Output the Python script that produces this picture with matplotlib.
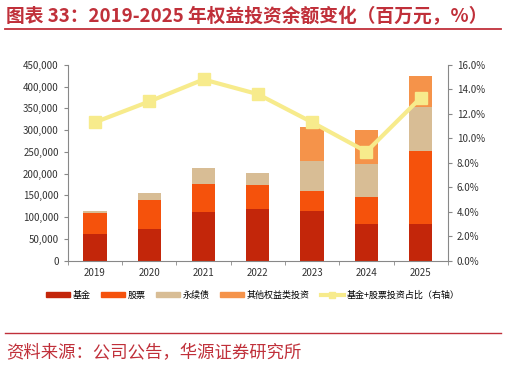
import matplotlib as mpl
mpl.use('Agg')
import matplotlib.pyplot as plt
from matplotlib.patches import Patch
from matplotlib.lines import Line2D
from matplotlib.ticker import FuncFormatter
import numpy as np

plt.rcParams['font.family'] = ['Noto Sans CJK SC', 'DejaVu Sans']

years = ['2019', '2020', '2021', '2022', '2023', '2024', '2025']
fund = [60000, 73000, 112000, 118000, 115000, 85000, 85000]
stock = [49000, 67000, 63000, 55000, 46000, 60000, 166000]
perp = [6000, 15000, 37000, 29000, 68000, 77000, 103000]
other = [0, 0, 0, 0, 78000, 79000, 71000]
ratio = [11.3, 13.0, 14.8, 13.6, 11.3, 8.9, 13.3]

names = ['基金', '股票', '永续债', '其他权益类投资', '基金+股票投资占比（右轴）']
colors = ['#C3260A', '#F5520C', '#D8BD95', '#F5934A', '#F7EB8C']
RED = '#C0303A'
GRAY = '#888888'

fig = plt.figure(figsize=(5.06, 3.66), dpi=100)
ax = fig.add_axes([0.134, 0.288, 0.751, 0.535])
x = np.arange(len(years))
w = 0.43
bottom = np.zeros(len(years))
for vals, c in zip([fund, stock, perp, other], colors[:4]):
    ax.bar(x, vals, w, bottom=bottom, color=c, zorder=2)
    bottom += np.array(vals)

ax.set_xlim(-0.5, len(years) - 0.5)
ax.set_ylim(0, 450000)
ax.set_yticks(np.arange(0, 450001, 50000))
ax.yaxis.set_major_formatter(FuncFormatter(lambda v, p: f'{int(v):,}'))
ax.set_xticks(x)
ax.set_xticklabels(years)
ax.set_xticks(np.arange(-0.5, len(years)), minor=True)
ax.tick_params(axis='x', which='major', length=0, pad=5, labelsize=7, colors='#333333')
ax.tick_params(axis='x', which='minor', length=3, color=GRAY, direction='out')
ax.tick_params(axis='y', length=3, color=GRAY, labelsize=7, colors='#333333')
for s in ['top', 'right']:
    ax.spines[s].set_visible(False)
for s in ['left', 'bottom']:
    ax.spines[s].set_color(GRAY)
    ax.spines[s].set_linewidth(0.8)

ax2 = ax.twinx()
ax2.plot(x, ratio, color=colors[4], lw=3, marker='s', ms=9, zorder=3)
ax2.set_ylim(0, 16)
ax2.set_yticks(np.arange(0, 16.1, 2))
ax2.yaxis.set_major_formatter(FuncFormatter(lambda v, p: f'{v:.1f}%'))
ax2.tick_params(axis='y', length=3, color=GRAY, labelsize=7, colors='#333333')
for s in ['top', 'left', 'bottom']:
    ax2.spines[s].set_visible(False)
ax2.spines['right'].set_color(GRAY)
ax2.spines['right'].set_linewidth(0.8)

handles = [Patch(color=c) for c in colors[:4]]
handles.append(Line2D([0], [0], color=colors[4], lw=3, marker='s', ms=4))
fig.legend(handles, names, loc='center', bbox_to_anchor=(0.5, 0.193), ncol=5,
           frameon=False, fontsize=6.5, handlelength=2.6, handleheight=0.45,
           handletextpad=0.3, columnspacing=1.2)

fig.text(0.012, 0.955, '图表 33：2019-2025 年权益投资余额变化（百万元，%）',
         fontsize=13.5, fontweight='bold', color=RED, va='center', ha='left')
fig.add_artist(Line2D([0.01, 0.99], [0.92, 0.92], color=RED, lw=1.3))
fig.add_artist(Line2D([0.01, 0.99], [0.09, 0.09], color=RED, lw=1.0))
fig.text(0.012, 0.036, '资料来源：公司公告，华源证券研究所',
         fontsize=12.5, color=RED, va='center', ha='left')

plt.savefig('out.png', dpi=100)
plt.close()
